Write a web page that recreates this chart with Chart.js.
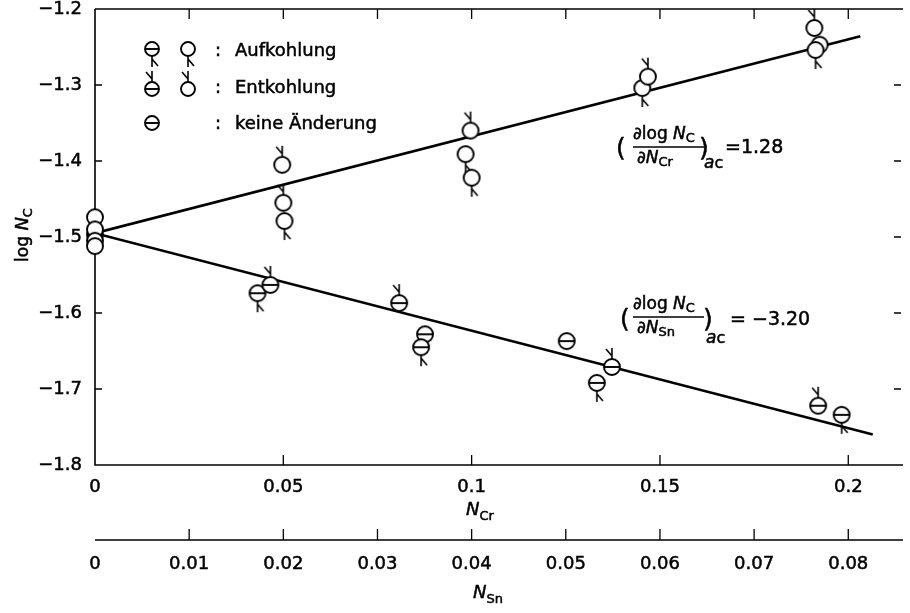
<!DOCTYPE html>
<html>
<head>
<meta charset="utf-8">
<script src="https://cdn.jsdelivr.net/npm/chart.js@4.4.0/dist/chart.umd.min.js"></script>
<style>
  body { margin: 0; background: #fff; }
  canvas { display: block; }
</style>
</head>
<body>
<canvas id="myChart" width="910" height="613"></canvas>
<script>
'use strict';

//========== Data ==========
// Cr alloys (upper line, x = N_Cr)
let crNcr = [0, 0, 0, 0, 0.0497, 0.0500, 0.0503, 0.0997, 0.0984, 0.1000, 0.1453, 0.1468, 0.1910, 0.1924, 0.1913];
let crLogNc = [-1.474, -1.490, -1.505, -1.512, -1.405, -1.455, -1.479, -1.360, -1.391, -1.422, -1.304, -1.289, -1.225, -1.247, -1.254];
let crKind = ['none', 'none', 'none', 'none', 'ent', 'ent', 'auf', 'ent', 'auf', 'auf', 'auf', 'ent', 'ent', 'none', 'auf'];

// Sn alloys (lower line, x = N_Sn)
let snNsn = [0, 0.01726, 0.01863, 0.0323, 0.03505, 0.03463, 0.0501, 0.0549, 0.0533, 0.0768, 0.0793];
let snLogNc = [-1.497, -1.574, -1.563, -1.587, -1.628, -1.645, -1.637, -1.671, -1.692, -1.722, -1.734];
let snKind = ['none', 'auf', 'ent', 'ent', 'none', 'auf', 'none', 'ent', 'auf', 'ent', 'auf'];

// fitted lines, end points
let crFitX = [0, 0.2032];
let crFitY = [-1.495, -1.236];
let snFitX = [0, 0.0826];
let snFitY = [-1.495, -1.760];

// axis ticks
let ncrTicks = [0, 0.05, 0.1, 0.15, 0.2];
let ncrLabels = ['0', '0.05', '0.1', '0.15', '0.2'];
let nsnTicks = [0, 0.01, 0.02, 0.03, 0.04, 0.05, 0.06, 0.07, 0.08];
let nsnLabels = ['0', '0.01', '0.02', '0.03', '0.04', '0.05', '0.06', '0.07', '0.08'];
let logTicks = [-1.8, -1.7, -1.6, -1.5, -1.4, -1.3, -1.2];
let logLabels = ['\u22121.8', '\u22121.7', '\u22121.6', '\u22121.5', '\u22121.4', '\u22121.3', '\u22121.2'];

const FONT = '"DejaVu Sans"';
const INK = '#000';

//========== Marker images ==========
function makeMarker(bar, tail, r) {
  let pad = 15;
  let size = Math.ceil(2 * (r + pad));
  let c = document.createElement('canvas');
  c.width = size;
  c.height = size;
  let g = c.getContext('2d');
  let m = size / 2;
  g.strokeStyle = INK;
  g.lineWidth = 1.9;
  g.fillStyle = '#fff';
  g.beginPath();
  g.arc(m, m, r, 0, Math.PI * 2);
  g.fill();
  g.stroke();
  if (bar) {
    g.beginPath();
    g.moveTo(m - r, m);
    g.lineTo(m + r, m);
    g.stroke();
  }
  g.lineWidth = 1.6;
  if (tail === 'ent') {
    g.beginPath();
    g.moveTo(m, m - r);
    g.lineTo(m, m - r - 11);
    g.moveTo(m, m - r - 3);
    g.lineTo(m - 6, m - r - 10);
    g.stroke();
  } else if (tail === 'auf') {
    g.beginPath();
    g.moveTo(m, m + r);
    g.lineTo(m, m + r + 11);
    g.moveTo(m, m + r + 3);
    g.lineTo(m + 6, m + r + 10);
    g.stroke();
  }
  return c;
}

let crMarkers = {none: makeMarker(false, 'none', 8), auf: makeMarker(false, 'auf', 8), ent: makeMarker(false, 'ent', 8)};
let snMarkers = {none: makeMarker(true, 'none', 8), auf: makeMarker(true, 'auf', 8), ent: makeMarker(true, 'ent', 8)};
let legMarkers = {
  snAuf: makeMarker(true, 'auf', 7), crAuf: makeMarker(false, 'auf', 7),
  snEnt: makeMarker(true, 'ent', 7), crEnt: makeMarker(false, 'ent', 7),
  snNone: makeMarker(true, 'none', 7)
};

function toPoints(xs, ys) {
  let pts = [];
  for (let i = 0; i < xs.length; i++) {
    pts.push({x: xs[i], y: ys[i]});
  }
  return pts;
}

// draws text pieces one after the other (fill + thin stroke to thicken like the print)
function drawRuns(ctx, x, y, runs) {
  for (let i = 0; i < runs.length; i++) {
    let r = runs[i];
    ctx.font = r.font;
    ctx.fillText(r.t, x, y + (r.dy || 0));
    ctx.strokeText(r.t, x, y + (r.dy || 0));
    x += ctx.measureText(r.t).width + (r.gap || 0);
  }
  return x;
}

function runsWidth(ctx, runs) {
  let w = 0;
  for (let i = 0; i < runs.length; i++) {
    ctx.font = runs[i].font;
    w += ctx.measureText(runs[i].t).width + (runs[i].gap || 0);
  }
  return w;
}

//========== Plugins ==========
// frame, inward tick marks and the second (N_Sn) axis line
let framePlugin = {
  id: 'frame',
  beforeDatasetsDraw(chart) {
    let ctx = chart.ctx;
    let a = chart.chartArea;
    let xCr = chart.scales.xCr;
    let xSn = chart.scales.xSn;
    let y = chart.scales.y;
    ctx.save();
    ctx.strokeStyle = INK;
    ctx.lineWidth = 1.6;
    ctx.beginPath();
    ctx.moveTo(a.left, a.top);
    ctx.lineTo(a.right + 2, a.top);
    ctx.moveTo(a.left, a.top);
    ctx.lineTo(a.left, a.bottom);
    ctx.lineTo(a.right + 2, a.bottom);
    // N_Sn axis line
    ctx.moveTo(a.left, xSn.top);
    ctx.lineTo(a.right + 2, xSn.top);
    ctx.stroke();

    ctx.lineWidth = 1.3;
    ctx.beginPath();
    for (let v = 0.025; v < 0.21; v += 0.025) {
      let px = xCr.getPixelForValue(v);
      ctx.moveTo(px, a.top);
      ctx.lineTo(px, a.top + 10);
    }
    for (let i = 1; i < ncrTicks.length; i++) {
      let px = xCr.getPixelForValue(ncrTicks[i]);
      ctx.moveTo(px, a.bottom);
      ctx.lineTo(px, a.bottom - 10);
    }
    for (let i = 1; i < nsnTicks.length; i++) {
      let px = xSn.getPixelForValue(nsnTicks[i]);
      ctx.moveTo(px, xSn.top);
      ctx.lineTo(px, xSn.top - 11);
    }
    for (let i = 1; i < logTicks.length - 1; i++) {
      let py = y.getPixelForValue(logTicks[i]);
      ctx.moveTo(a.left, py);
      ctx.lineTo(a.left + 7, py);
      ctx.moveTo(a.right, py);
      ctx.lineTo(a.right - 7, py);
    }
    ctx.stroke();
    ctx.restore();
  },
  afterDraw(chart) {
    let ctx = chart.ctx;
    ctx.save();
    ctx.fillStyle = INK;
    ctx.strokeStyle = INK;
    ctx.lineWidth = 0.5;
    ctx.textBaseline = 'alphabetic';
    ctx.textAlign = 'left';

    let ital = 'italic 18px ' + FONT;
    let sub = '13px ' + FONT;

    // axis titles
    let tCr = [{t: 'N', font: ital}, {t: 'Cr', font: sub, dy: 5}];
    drawRuns(ctx, 480 - runsWidth(ctx, tCr) / 2, 515, tCr);
    let tSn = [{t: 'N', font: ital}, {t: 'Sn', font: sub, dy: 5}];
    drawRuns(ctx, 488 - runsWidth(ctx, tSn) / 2, 598, tSn);

    ctx.save();
    ctx.translate(28, 235);
    ctx.rotate(-Math.PI / 2);
    let tY = [{t: 'log ', font: '17px ' + FONT}, {t: 'N', font: ital}, {t: 'C', font: sub, dy: 4}];
    drawRuns(ctx, -runsWidth(ctx, tY) / 2, 0, tY);
    ctx.restore();

    // legend
    let rows = [
      {y: 49, base: 56, marks: [legMarkers.snAuf, legMarkers.crAuf], text: 'Aufkohlung'},
      {y: 89, base: 93, marks: [legMarkers.snEnt, legMarkers.crEnt], text: 'Entkohlung'},
      {y: 123, base: 129, marks: [legMarkers.snNone], text: 'keine \u00c4nderung'}
    ];
    let markX = [152, 188];
    let legFont = '18px ' + FONT;
    for (let i = 0; i < rows.length; i++) {
      let row = rows[i];
      for (let j = 0; j < row.marks.length; j++) {
        let im = row.marks[j];
        ctx.drawImage(im, markX[j] - im.width / 2, row.y - im.height / 2);
      }
      drawRuns(ctx, 215, row.base, [{t: ':', font: legFont}]);
      drawRuns(ctx, 235, row.base, [{t: row.text, font: legFont}]);
    }

    // slope annotations
    let paren = '25px ' + FONT;
    let num = [{t: '\u2202log ', font: '17px ' + FONT}, {t: 'N', font: 'italic 17px ' + FONT}, {t: 'C', font: sub, dy: 3}];
    let ac = [{t: 'a', font: 'italic 17px ' + FONT}, {t: 'c', font: '16px ' + FONT}];

    drawRuns(ctx, 616, 156, [{t: '(', font: paren}]);
    drawRuns(ctx, 633, 139, num);
    ctx.lineWidth = 1.6;
    ctx.beginPath();
    ctx.moveTo(633, 147);
    ctx.lineTo(704, 147);
    ctx.stroke();
    ctx.lineWidth = 0.5;
    drawRuns(ctx, 637, 163, [{t: '\u2202', font: '17px ' + FONT}, {t: 'N', font: 'italic 17px ' + FONT}, {t: 'Cr', font: sub, dy: 3}]);
    drawRuns(ctx, 699, 156, [{t: ')', font: paren}]);
    drawRuns(ctx, 704, 168, ac);
    drawRuns(ctx, 725, 153, [{t: '=1.28', font: '19px ' + FONT}]);

    drawRuns(ctx, 620, 327, [{t: '(', font: paren}]);
    drawRuns(ctx, 633, 309, num);
    ctx.lineWidth = 1.6;
    ctx.beginPath();
    ctx.moveTo(633, 317);
    ctx.lineTo(704, 317);
    ctx.stroke();
    ctx.lineWidth = 0.5;
    drawRuns(ctx, 637, 333, [{t: '\u2202', font: '17px ' + FONT}, {t: 'N', font: 'italic 17px ' + FONT}, {t: 'Sn', font: sub, dy: 3}]);
    drawRuns(ctx, 703, 327, [{t: ')', font: paren}]);
    drawRuns(ctx, 706, 343, ac);
    drawRuns(ctx, 730, 325, [{t: '= \u22123.20', font: '19px ' + FONT}]);

    ctx.restore();
  }
};

//========== Chart ==========
let ctx = document.getElementById('myChart').getContext('2d');

let tickFont = {family: 'DejaVu Sans', size: 18};

let myChart = new Chart(ctx, {
  type: 'scatter',
  data: {
    datasets: [
      {
        label: 'Cr',
        data: toPoints(crNcr, crLogNc),
        xAxisID: 'xCr',
        yAxisID: 'y',
        pointStyle: crKind.map(k => crMarkers[k]),
        pointRadius: 8,
        clip: false
      },
      {
        label: 'Sn',
        data: toPoints(snNsn, snLogNc),
        xAxisID: 'xSn',
        yAxisID: 'y',
        pointStyle: snKind.map(k => snMarkers[k]),
        pointRadius: 8,
        clip: false
      },
      {
        label: 'Cr fit',
        data: toPoints(crFitX, crFitY),
        xAxisID: 'xCr',
        yAxisID: 'y',
        showLine: true,
        borderColor: INK,
        borderWidth: 2.6,
        pointRadius: 0
      },
      {
        label: 'Sn fit',
        data: toPoints(snFitX, snFitY),
        xAxisID: 'xSn',
        yAxisID: 'y',
        showLine: true,
        borderColor: INK,
        borderWidth: 2.6,
        pointRadius: 0
      }
    ]
  },
  options: {
    responsive: false,
    animation: false,
    devicePixelRatio: 1,
    layout: {padding: {top: 9, right: 2, left: 0, bottom: 0}},
    plugins: {
      legend: {display: false},
      tooltip: {enabled: false}
    },
    scales: {
      xCr: {
        type: 'linear',
        position: 'bottom',
        weight: 0,
        min: 0,
        max: 0.214,
        afterBuildTicks: s => { s.ticks = ncrTicks.map(v => ({value: v})); },
        afterFit: s => { s.height = 75; s.paddingLeft = 0; s.paddingRight = 0; },
        grid: {display: false, drawTicks: false},
        border: {display: false},
        ticks: {
          padding: 12,
          color: INK,
          textStrokeColor: INK,
          textStrokeWidth: 0.5,
          font: tickFont,
          maxRotation: 0,
          autoSkip: false,
          callback: (v, i) => ncrLabels[i]
        }
      },
      xSn: {
        type: 'linear',
        position: 'bottom',
        weight: 1,
        min: 0,
        max: 0.0856,
        afterBuildTicks: s => { s.ticks = nsnTicks.map(v => ({value: v})); },
        afterFit: s => { s.height = 73; s.paddingLeft = 0; s.paddingRight = 0; },
        grid: {display: false, drawTicks: false},
        border: {display: false},
        ticks: {
          padding: 14,
          color: INK,
          textStrokeColor: INK,
          textStrokeWidth: 0.5,
          font: tickFont,
          maxRotation: 0,
          autoSkip: false,
          callback: (v, i) => nsnLabels[i]
        }
      },
      y: {
        type: 'linear',
        position: 'left',
        min: -1.8,
        max: -1.2,
        afterBuildTicks: s => { s.ticks = logTicks.map(v => ({value: v})); },
        afterFit: s => { s.width = 95; s.paddingTop = 0; s.paddingBottom = 0; },
        grid: {display: false, drawTicks: false},
        border: {display: false},
        ticks: {
          padding: 13,
          color: INK,
          textStrokeColor: INK,
          textStrokeWidth: 0.5,
          font: tickFont,
          autoSkip: false,
          callback: (v, i) => logLabels[i]
        }
      }
    }
  },
  plugins: [framePlugin]
});
</script>
</body>
</html>
